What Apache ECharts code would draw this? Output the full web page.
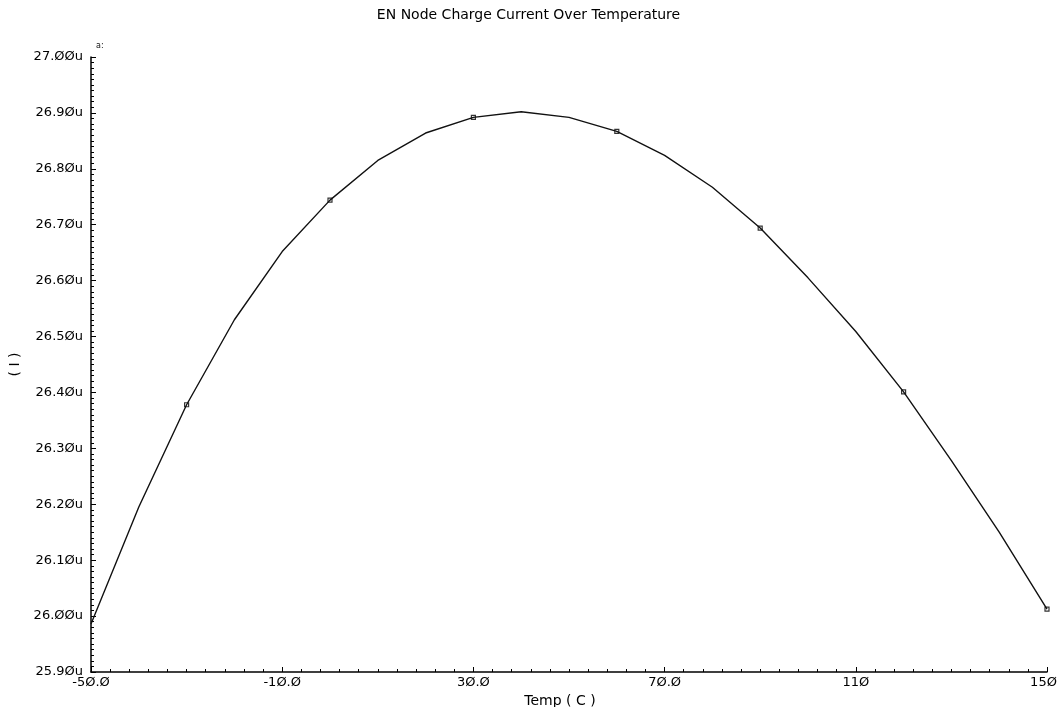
<!DOCTYPE html>
<html>
<head>
<meta charset="utf-8">
<script src="https://cdn.jsdelivr.net/npm/echarts@6/dist/echarts.min.js"></script>
<style>html,body{margin:0;padding:0;background:#fff}#c{width:1057px;height:707px}</style>
</head>
<body>
<div id="c"></div>
<script>
// Data (temperature in C, current in uA)
const temps = [-50, -40, -30, -20, -10, 0, 10, 20, 30, 40, 50, 60, 70, 80, 90, 100, 110, 120, 130, 140, 150];
const current = [25.986, 26.195, 26.378, 26.530, 26.652, 26.744, 26.815, 26.864, 26.892, 26.902, 26.892, 26.867, 26.824, 26.767, 26.694, 26.605, 26.509, 26.401, 26.278, 26.150, 26.0125];
const markerTemps = [-30, 0, 30, 60, 90, 120, 150];
const xTickValues = [-50, -10, 30, 70, 110, 150];
const xTickLabels = ['-5Ø.Ø', '-1Ø.Ø', '3Ø.Ø', '7Ø.Ø', '11Ø', '15Ø'];
const yTickValues = [25.9, 26.0, 26.1, 26.2, 26.3, 26.4, 26.5, 26.6, 26.7, 26.8, 26.9, 27.0];
const yTickLabels = ['25.9Øu', '26.ØØu', '26.1Øu', '26.2Øu', '26.3Øu', '26.4Øu', '26.5Øu', '26.6Øu', '26.7Øu', '26.8Øu', '26.9Øu', '27.ØØu'];

const lineData = temps.map((t, i) => [t, current[i]]);
const markerData = markerTemps.map(t => [t, current[temps.indexOf(t)]]);

function lookup(vals, labels, v) {
  for (let i = 0; i < vals.length; i++) if (Math.abs(vals[i] - v) < 1e-6) return labels[i];
  return '';
}

const chart = echarts.init(document.getElementById('c'));
const font = 'DejaVu Sans';
chart.setOption({
  animation: false,
  backgroundColor: '#fff',
  title: {
    text: 'EN Node Charge Current Over Temperature',
    left: 'center', top: 3,
    textStyle: { fontFamily: font, fontSize: 14, fontWeight: 'normal', color: '#000' }
  },
  grid: { left: 91, right: 10, top: 57, bottom: 35, outerBoundsMode: 'none', containLabel: false },
  xAxis: {
    type: 'value', min: -50, max: 150, interval: 40,
    name: 'Temp ( C )', nameLocation: 'middle', nameGap: 17,
    nameTextStyle: { fontFamily: font, fontSize: 14, color: '#000', padding: [0, 18, 0, 0] },
    axisLine: { show: true, onZero: false, lineStyle: { color: '#000', width: 1.5 } },
    axisTick: { show: true, inside: true, length: 5, lineStyle: { color: '#000' } },
    minorTick: { show: true, splitNumber: 10, length: 3, lineStyle: { color: '#000' } },
    splitLine: { show: false },
    axisLabel: {
      fontFamily: font, fontSize: 13, color: '#000', margin: 4,
      formatter: v => {
        const s = lookup(xTickValues, xTickLabels, v);
        return v === xTickValues[xTickValues.length - 1] ? '{last|' + s + '}' : s;
      },
      rich: { last: { fontFamily: font, fontSize: 13, color: '#000', padding: [0, 7, 0, 0] } }
    }
  },
  yAxis: {
    type: 'value', min: 25.9, max: 27.0, interval: 0.1,
    name: '( I )', nameLocation: 'middle', nameGap: 68, nameRotate: 90,
    nameTextStyle: { fontFamily: font, fontSize: 14, color: '#000' },
    axisLine: { show: true, onZero: false, lineStyle: { color: '#000', width: 1.5 } },
    axisTick: { show: true, inside: true, length: 5, lineStyle: { color: '#000' } },
    minorTick: { show: true, splitNumber: 10, length: 3, lineStyle: { color: '#000' } },
    splitLine: { show: false },
    axisLabel: {
      fontFamily: font, fontSize: 13, color: '#000', margin: 8,
      formatter: v => lookup(yTickValues, yTickLabels, v)
    }
  },
  graphic: [{
    type: 'text', left: 96, top: 42,
    style: { text: 'a:', fontFamily: font, fontSize: 8, fill: '#111' }
  }],
  series: [{
    type: 'line', data: lineData, showSymbol: false,
    lineStyle: { color: '#111', width: 1.4 }
  }, {
    type: 'scatter', data: markerData, symbol: 'rect', symbolSize: 4,
    itemStyle: { color: '#fff', borderColor: '#000', borderWidth: 1.2 }
  }]
});
</script>
</body>
</html>
